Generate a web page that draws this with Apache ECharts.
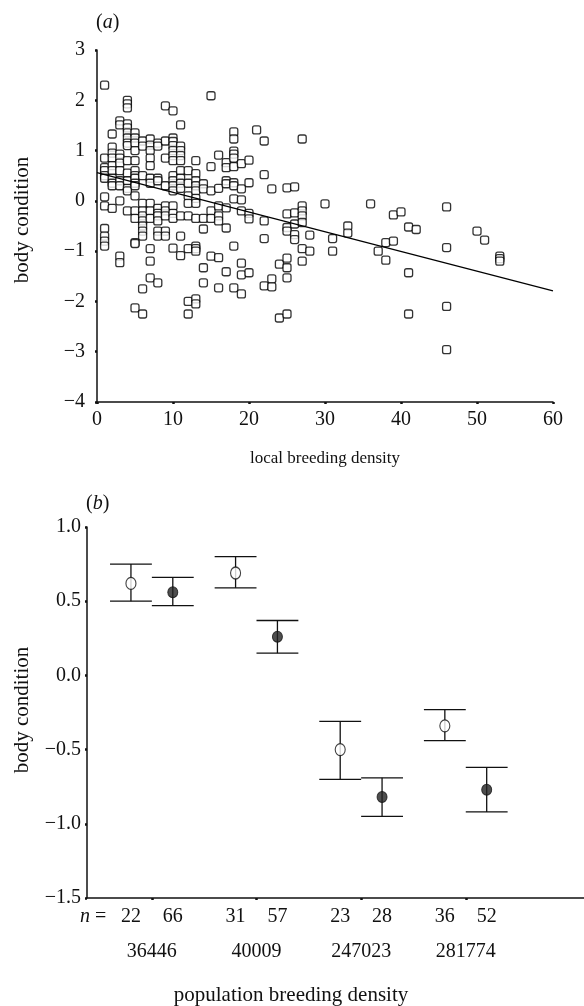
<!DOCTYPE html>
<html>
<head>
<meta charset="utf-8">
<script src="https://cdn.jsdelivr.net/npm/echarts@6/dist/echarts.min.js"></script>
<style>
html,body{margin:0;padding:0;background:#fff;}
#chart{width:584px;height:1006px;}
</style>
</head>
<body>
<div id="chart"></div>
<script>
// ---------- Panel (a) data: local breeding density vs body condition ----------
const localDensity = [
  1,1,1,1,1,1,1,1,1,1,1,1,
  2,2,2,2,2,2,2,2,2,2,
  3,3,3,3,3,3,3,3,3,3,3,
  4,4,4,4,4,4,4,4,4,4,4,4,4,4,4,
  5,5,5,5,5,5,5,5,5,5,5,5,5,5,5,5,
  6,6,6,6,6,6,6,6,6,6,6,6,
  7,7,7,7,7,7,7,7,7,7,7,7,7,
  8,8,8,8,8,8,8,8,8,8,8,
  9,9,9,9,9,9,9,9,9,
  10,10,10,10,10,10,10,10,10,10,10,10,10,10,10,
  11,11,11,11,11,11,11,11,11,11,11,11,
  12,12,12,12,12,12,12,12,
  13,13,13,13,13,13,13,13,13,13,13,13,13,
  14,14,14,14,14,14,
  15,15,15,15,15,15,
  16,16,16,16,16,16,16,
  17,17,17,17,17,17,17,
  18,18,18,18,18,18,18,18,18,18,18,
  19,19,19,19,19,19,19,
  20,20,20,20,20,
  21,
  22,22,22,22,22,
  23,23,23,
  24,24,
  25,25,25,25,25,25,25,25,
  26,26,26,26,26,
  27,27,27,27,27,27,27,
  28,28,
  30,
  31,31,
  33,33,
  36,
  37,
  38,38,
  39,39,
  40,
  41,41,41,
  42,
  46,46,46,46,
  50,
  51,
  53,53,53
];
const bodyCondition = [
  2.3,0.85,0.66,0.6,0.5,0.45,0.08,-0.1,-0.55,-0.7,-0.8,-0.9,
  1.33,1.07,0.95,0.85,0.7,0.6,0.45,0.35,0.3,-0.15,
  1.59,1.51,0.93,0.85,0.75,0.6,0.4,0.3,0.0,-1.1,-1.23,
  2.0,1.93,1.85,1.53,1.45,1.35,1.25,1.15,1.1,0.8,0.55,0.4,0.25,0.2,-0.2,
  1.35,1.25,1.15,1.0,0.8,0.6,0.5,0.45,0.35,0.3,0.1,-0.2,-0.35,-0.83,-0.85,-2.13,
  1.19,1.09,0.5,-0.05,-0.2,-0.3,-0.4,-0.5,-0.6,-0.7,-1.75,-2.25,
  1.23,1.11,1.0,0.85,0.7,0.45,0.35,-0.05,-0.2,-0.35,-0.95,-1.2,-1.53,
  1.15,1.09,0.45,0.4,-0.15,-0.25,-0.3,-0.4,-0.6,-0.7,-1.63,
  1.89,1.19,0.85,0.3,-0.1,-0.2,-0.3,-0.6,-0.7,
  1.79,1.25,1.18,1.1,1.0,0.9,0.8,0.5,0.4,0.3,0.2,-0.1,-0.25,-0.35,-0.94,
  1.51,1.09,1.0,0.9,0.8,0.6,0.45,0.35,0.25,-0.3,-0.7,-1.09,
  0.6,0.35,0.1,-0.05,-0.3,-0.95,-2.0,-2.25,
  0.8,0.54,0.4,0.3,0.2,0.05,-0.05,-0.35,-0.9,-0.95,-1.0,-1.95,-2.05,
  0.34,0.24,-0.35,-0.56,-1.33,-1.63,
  2.09,0.68,0.2,-0.2,-0.35,-1.1,
  0.91,0.25,-0.1,-0.3,-0.4,-1.13,-1.73,
  0.76,0.66,0.4,0.34,-0.14,-0.54,-1.41,
  1.37,1.23,0.99,0.93,0.85,0.68,0.36,0.3,0.04,-0.9,-1.73,
  0.74,0.24,0.02,-0.2,-1.24,-1.47,-1.85,
  0.81,0.36,-0.25,-0.36,-1.43,
  1.41,
  1.19,0.52,-0.4,-0.75,-1.69,
  0.24,-1.55,-1.71,
  -1.26,-2.33,
  0.26,-0.26,-0.53,-0.6,-1.14,-1.33,-1.53,-2.25,
  0.28,-0.24,-0.46,-0.67,-0.77,
  1.23,-0.1,-0.2,-0.3,-0.43,-0.95,-1.2,
  -0.68,-1.0,
  -0.06,
  -0.75,-1.0,
  -0.5,-0.64,
  -0.06,
  -1.0,
  -0.83,-1.18,
  -0.28,-0.8,
  -0.22,
  -0.52,-1.43,-2.25,
  -0.57,
  -0.12,-0.93,-2.1,-2.96,
  -0.6,
  -0.78,
  -1.1,-1.15,-1.2
];
// regression line end points
const fitX = [0, 60];
const fitY = [0.56, -1.79];
const aXTicks = [0, 10, 20, 30, 40, 50, 60];

// ---------- Panel (b) data ----------
const popDensity = ['36446', '40009', '247023', '281774'];
const groupPos = [1, 2, 3, 4];
const sampleN = [22, 66, 31, 57, 23, 28, 36, 52];
const pointGroup = [0, 0, 1, 1, 2, 2, 3, 3];
const pointFilled = [false, true, false, true, false, true, false, true];
const meanCond = [0.62, 0.56, 0.69, 0.26, -0.50, -0.82, -0.34, -0.77];
const errUpper = [0.75, 0.66, 0.80, 0.37, -0.31, -0.69, -0.23, -0.62];
const errLower = [0.50, 0.47, 0.59, 0.15, -0.70, -0.95, -0.44, -0.92];

// ---------- build ----------
const SERIF = '"Liberation Serif", "DejaVu Serif", serif';
const INK = '#111';
const scatterData = localDensity.map((x, i) => [x, bodyCondition[i]]);
const fitData = fitX.map((x, i) => [x, fitY[i]]);
const pairOffset = 0.2;
const pointX = pointGroup.map((g, i) => groupPos[g] + (i % 2 === 0 ? -pairOffset : pairOffset));
const openData = [], filledData = [], errData = [];
pointX.forEach((x, i) => {
  (pointFilled[i] ? filledData : openData).push([x, meanCond[i]]);
  errData.push([x, errLower[i], errUpper[i]]);
});
const nByPos = {};
pointX.forEach((x, i) => { nByPos[x.toFixed(2)] = sampleN[i]; });
const densByPos = {};
groupPos.forEach((x, i) => { densByPos[x.toFixed(2)] = popDensity[i]; });

const minus = s => String(s).replace('-', '\u2212');
const tick = {show: true, length: 2, lineStyle: {color: INK, width: 2.5}};
const line = {show: true, onZero: false, lineStyle: {color: INK, width: 1.5}};

const chart = echarts.init(document.getElementById('chart'), null, {renderer: 'canvas'});
const option = {
  backgroundColor: '#fff',
  animation: false,
  textStyle: {fontFamily: SERIF, color: INK},
  grid: [
    {left: 97, right: 31, top: 50, height: 352},
    {left: 87, right: 0, top: 527, height: 371}
  ],
  xAxis: [
    {
      gridIndex: 0, type: 'value', min: 0, max: 60, interval: 10,
      axisLine: line, axisTick: tick, splitLine: {show: false},
      axisLabel: {color: INK, fontFamily: SERIF, fontSize: 20, margin: 8, customValues: aXTicks}
    },
    {
      gridIndex: 1, type: 'value', min: 0.38, max: 5.13,
      axisLine: line,
      axisTick: Object.assign({}, tick, {customValues: groupPos}),
      splitLine: {show: false},
      axisLabel: {color: INK, fontFamily: SERIF, fontSize: 20, margin: 9,
        customValues: pointX,
        formatter: v => String(nByPos[Number(v).toFixed(2)] ?? '')}
    },
    {
      gridIndex: 1, type: 'value', min: 0.38, max: 5.13, position: 'bottom',
      axisLine: {show: false, onZero: false}, axisTick: {show: false}, splitLine: {show: false},
      axisLabel: {color: INK, fontFamily: SERIF, fontSize: 20, margin: 44,
        customValues: groupPos,
        formatter: v => densByPos[Number(v).toFixed(2)] ?? ''}
    }
  ],
  yAxis: [
    {
      gridIndex: 0, type: 'value', min: -4, max: 3, interval: 1,
      axisLine: line, axisTick: tick, splitLine: {show: false},
      axisLabel: {color: INK, fontFamily: SERIF, fontSize: 20, margin: 12,
        formatter: v => minus(v)}
    },
    {
      gridIndex: 1, type: 'value', min: -1.5, max: 1.0, interval: 0.5,
      axisLine: line, axisTick: tick, splitLine: {show: false},
      axisLabel: {color: INK, fontFamily: SERIF, fontSize: 20, margin: 6,
        formatter: v => minus(Number(v).toFixed(1))}
    }
  ],
  series: [
    {
      type: 'scatter', xAxisIndex: 0, yAxisIndex: 0, data: scatterData,
      symbol: 'roundRect', symbolSize: 8,
      itemStyle: {color: '#fff', borderColor: '#000', borderWidth: 1.3},
      z: 3
    },
    {
      type: 'line', xAxisIndex: 0, yAxisIndex: 0, data: fitData,
      showSymbol: false, symbol: 'none',
      lineStyle: {color: '#000', width: 1.2}, z: 4
    },
    {
      type: 'custom', xAxisIndex: 1, yAxisIndex: 1, data: errData,
      renderItem: (params, api) => {
        const x = api.value(0);
        const lo = api.coord([x, api.value(1)]);
        const hi = api.coord([x, api.value(2)]);
        const half = api.size([pairOffset, 0])[0];
        const st = {stroke: '#111', lineWidth: 1.3};
        return {type: 'group', children: [
          {type: 'line', shape: {x1: hi[0], y1: hi[1], x2: lo[0], y2: lo[1]}, style: st},
          {type: 'line', shape: {x1: hi[0] - half, y1: hi[1], x2: hi[0] + half, y2: hi[1]}, style: st},
          {type: 'line', shape: {x1: lo[0] - half, y1: lo[1], x2: lo[0] + half, y2: lo[1]}, style: st}
        ]};
      },
      z: 2
    },
    {
      type: 'scatter', xAxisIndex: 1, yAxisIndex: 1, data: openData,
      symbol: 'circle', symbolSize: [10, 12],
      itemStyle: {color: '#fff', borderColor: '#111', borderWidth: 1.2}, z: 5
    },
    {
      type: 'scatter', xAxisIndex: 1, yAxisIndex: 1, data: filledData,
      symbol: 'circle', symbolSize: [10, 11],
      itemStyle: {color: '#222', borderColor: '#111', borderWidth: 1}, z: 5
    }
  ],
  graphic: [
    {type: 'text', left: 96, top: 13, style: {text: '({i|a})', font: '20px ' + SERIF, fill: INK,
      rich: {i: {fontStyle: 'italic', fontFamily: SERIF, fontSize: 20}}}},
    {type: 'text', left: 86, top: 494, style: {text: '({i|b})', font: '20px ' + SERIF, fill: INK,
      rich: {i: {fontStyle: 'italic', fontFamily: SERIF, fontSize: 20}}}},
    {type: 'text', x: 22, y: 220, rotation: Math.PI / 2,
      style: {text: 'body condition', font: '21px ' + SERIF, fill: INK, align: 'center', verticalAlign: 'middle'}},
    {type: 'text', x: 22, y: 710, rotation: Math.PI / 2,
      style: {text: 'body condition', font: '21px ' + SERIF, fill: INK, align: 'center', verticalAlign: 'middle'}},
    {type: 'text', x: 325, y: 459,
      style: {text: 'local breeding density', font: '17px ' + SERIF, fill: INK, align: 'center', verticalAlign: 'middle'}},
    {type: 'text', x: 291, y: 995,
      style: {text: 'population breeding density', font: '21px ' + SERIF, fill: INK, align: 'center', verticalAlign: 'middle'}},
    {type: 'text', x: 80, y: 917,
      style: {text: '{i|n} =', font: '20px ' + SERIF, fill: INK, align: 'left', verticalAlign: 'middle',
        rich: {i: {fontStyle: 'italic', fontFamily: SERIF, fontSize: 20}}}}
  ]
};
chart.setOption(option);
</script>
</body>
</html>
